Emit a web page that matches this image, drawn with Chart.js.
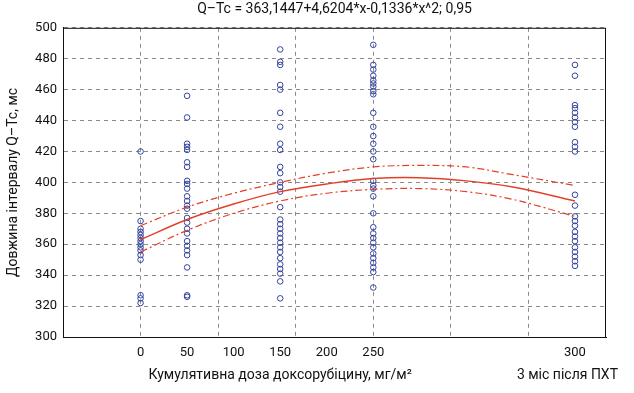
<!DOCTYPE html>
<html>
<head>
<meta charset="utf-8">
<script src="https://cdn.jsdelivr.net/npm/chart.js@4.4.1/dist/chart.umd.min.js"></script>
<style>
    html, body { margin: 0; padding: 0; background: #fff; }
    #wrap { width: 634px; height: 393px; }
</style>
</head>
<body>
<div id="wrap"><canvas id="qtcChart" width="634" height="393"></canvas></div>
<script>
/* == Q-Tc vs cumulative doxorubicin dose == */

// x positions of the measurement groups (axis units, not mg/m2)
const groupX = [0, 3, 9, 15, 28];

// Q-Tc values per group, ms
const qtc0 = [420, 375, 370, 368, 366, 364, 362, 360, 358, 356, 353, 350, 327, 325, 322];
const qtc50 = [456, 442, 425, 423, 421, 413, 410, 401, 399, 396, 391, 388, 385, 383, 377, 374, 370, 367, 362, 359, 356, 353, 345, 327, 326];
const qtc150 = [486, 478, 476, 463, 460, 445, 436, 425, 421, 410, 406, 400, 397, 394, 384, 376, 373, 370, 367, 364, 361, 358, 355, 351, 347, 344, 341, 336, 325];
const qtc250 = [489, 476, 473, 469, 466, 464, 462, 459, 457, 445, 436, 430, 425, 420, 415, 401, 398, 396, 391, 380, 371, 367, 364, 361, 358, 354, 351, 348, 345, 342, 332];
const qtc300 = [476, 469, 450, 448, 445, 442, 439, 436, 426, 423, 420, 392, 385, 378, 375, 372, 368, 365, 362, 358, 355, 352, 349, 346];

// regression curve and 0.95 band
const fitX = [0, 3, 6, 9, 12, 15, 18, 21, 24, 28];
const fitY = [363, 376, 386, 394, 399, 402.5, 403, 401, 397, 388];
const upperY = [372, 384, 393, 400, 406, 410, 411, 410, 405, 398];
const lowerY = [355, 369, 380, 388, 393, 395.5, 396, 394, 389, 378];

// x tick labels and where they sit
const xLabelValues = [0, 3, 6, 9, 12, 15, 28];
const xLabels = ['0', '50', '100', '150', '200', '250', '300'];
const xGridValues = [0, 5, 10, 15, 20, 25];

const FONT = 'Roboto';
const pointBlue = '#34449c';
const lineRed = '#e3402a';
const gridGrey = '#8a8a8a';

const toPoints = (x, ys) => ys.map(y => ({ x: x, y: y }));
const curve = ys => fitX.map((x, i) => ({ x: x, y: ys[i] }));

const groups = [qtc0, qtc50, qtc150, qtc250, qtc300];

const scatterSets = groups.map((ys, i) => ({
    type: 'scatter',
    data: toPoints(groupX[i], ys),
    pointStyle: 'circle',
    pointRadius: 2.8,
    pointHoverRadius: 2.8,
    backgroundColor: 'rgba(0,0,0,0)',
    borderColor: pointBlue,
    borderWidth: 1
}));

const lineSet = (ys, dash, width) => ({
    type: 'line',
    data: curve(ys),
    showLine: true,
    pointRadius: 0,
    borderColor: lineRed,
    borderWidth: width,
    borderDash: dash,
    tension: 0.35,
    fill: false
});

// frame round the plot and the two captions under the x axis
const framePlugin = {
    id: 'frame',
    afterDraw(chart) {
        const { ctx, chartArea: a } = chart;
        const xs = chart.scales.x;
        ctx.save();
        ctx.strokeStyle = '#111';
        ctx.lineWidth = 1;
        ctx.strokeRect(a.left + 0.5, a.top + 0.5, a.right - a.left - 1, a.bottom - a.top);
        ctx.fillStyle = '#111';
        ctx.font = '14px ' + FONT;
        ctx.textBaseline = 'middle';
        ctx.textAlign = 'center';
        ctx.fillText('Кумулятивна доза доксорубіцину, мг/м²', xs.getPixelForValue(9), 375);
        ctx.textAlign = 'right';
        ctx.fillText('3 міс після ПХТ', chart.width - 16, 375);
        ctx.restore();
    }
};

new Chart(document.getElementById('qtcChart'), {
    data: {
        datasets: [
            lineSet(fitY, [], 1.4),
            lineSet(upperY, [7, 3, 2, 3], 1.2),
            lineSet(lowerY, [7, 3, 2, 3], 1.2),
            ...scatterSets
        ]
    },
    options: {
        responsive: false,
        animation: false,
        layout: { padding: { top: 0, right: 28, bottom: 0, left: 0 } },
        scales: {
            x: {
                type: 'linear',
                min: -5,
                max: 30,
                afterBuildTicks: axis => {
                    const vals = [...new Set([...xGridValues, ...xLabelValues])].sort((a, b) => a - b);
                    axis.ticks = vals.map(v => ({ value: v }));
                },
                afterFit: scale => { scale.height = 56; },
                ticks: {
                    autoSkip: false,
                    maxRotation: 0,
                    padding: 8,
                    color: '#111',
                    font: { family: FONT, size: 13 },
                    callback: value => {
                        const i = xLabelValues.indexOf(value);
                        return i >= 0 ? xLabels[i] : '';
                    }
                },
                grid: {
                    drawTicks: false,
                    color: ctx => (ctx.tick && xGridValues.includes(ctx.tick.value)) ? gridGrey : 'rgba(0,0,0,0)',
                    lineWidth: 1
                },
                border: { display: true, color: '#111', dash: [4, 4] }
            },
            y: {
                min: 300,
                max: 500,
                afterFit: scale => { scale.width = 63; },
                ticks: {
                    stepSize: 20,
                    padding: 6,
                    color: '#111',
                    font: { family: FONT, size: 13 }
                },
                grid: { drawTicks: false, color: gridGrey, lineWidth: 1 },
                border: { display: true, color: '#111', dash: [4, 4] },
                title: {
                    display: true,
                    text: 'Довжина інтервалу Q–Tc, мс',
                    color: '#111',
                    font: { family: FONT, size: 14 },
                    padding: { top: 5, bottom: 0 }
                }
            }
        },
        plugins: {
            legend: { display: false },
            tooltip: { enabled: false },
            title: {
                display: true,
                fullSize: false,
                text: 'Q–Tc = 363,1447+4,6204*x-0,1336*x^2; 0,95',
                color: '#111',
                font: { family: FONT, size: 14, weight: 'normal' },
                padding: { top: 1, bottom: 10 }
            }
        }
    },
    plugins: [framePlugin]
});
</script>
</body>
</html>
